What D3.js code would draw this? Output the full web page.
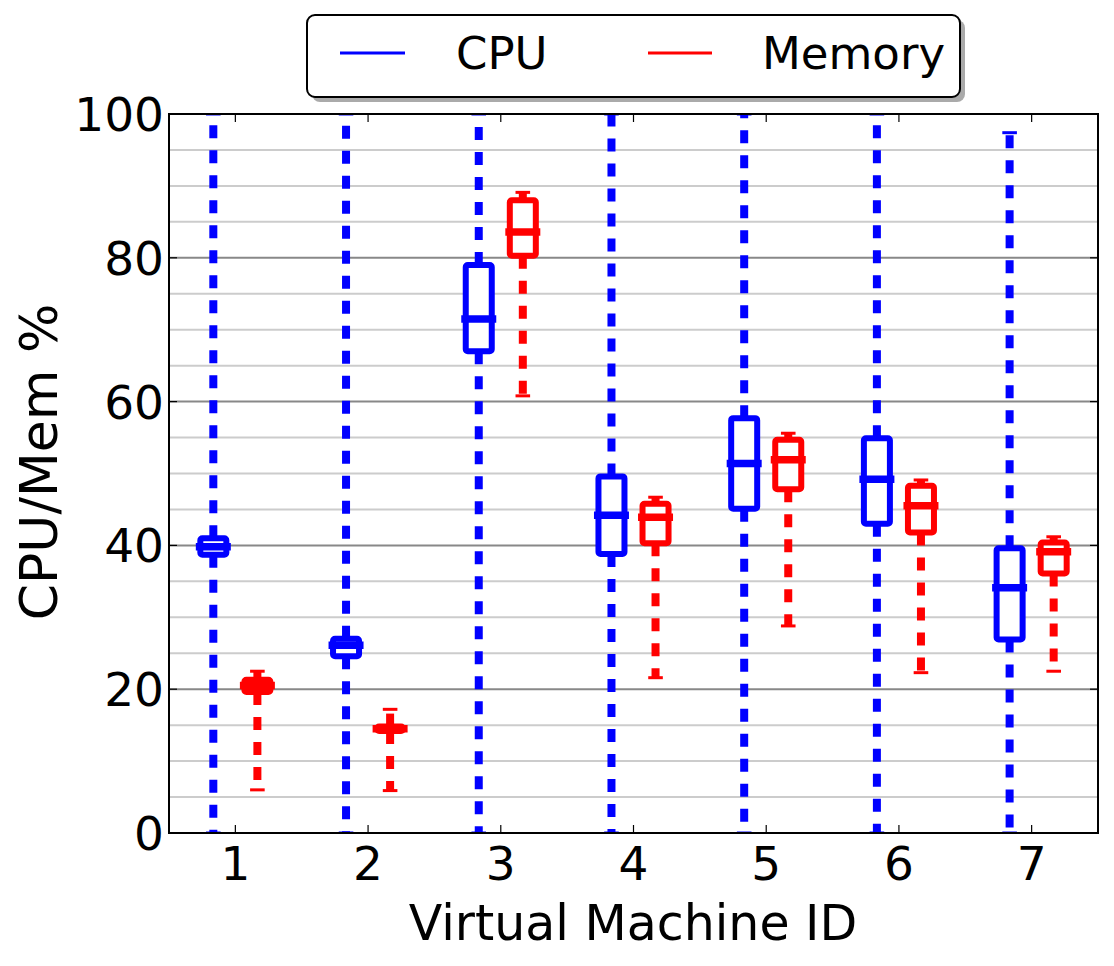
<!DOCTYPE html>
<html><head><meta charset="utf-8">
<script src="https://cdn.jsdelivr.net/npm/d3@7"></script>
<style>body{margin:0;background:#fff}svg{display:block}text{font-family:"DejaVu Sans",sans-serif}</style>
</head><body><svg id="c" width="1114" height="966"></svg>
<script>
const vmIds = [1,2,3,4,5,6,7];
const cpuMin = [0,0,0,0,0,0,0];
const cpuQ1  = [38.7,24.6,67.0,38.8,45.1,43.0,26.9];
const cpuMed = [39.8,26.1,71.5,44.2,51.4,49.2,34.1];
const cpuQ3  = [41.0,27.0,79.0,49.6,57.7,54.9,39.6];
const cpuMax = [100,100,100,100,100,100,97.4];
const memMin = [6.0,5.9,60.8,21.6,28.8,22.3,22.5];
const memQ1  = [19.6,14.2,80.3,40.3,47.8,41.8,36.1];
const memMed = [20.5,14.5,83.6,43.9,51.9,45.5,39.1];
const memQ3  = [21.3,14.8,88.0,45.8,54.7,48.3,40.4];
const memMax = [22.5,17.2,89.1,46.7,55.6,49.1,41.2];
const yTicks = [0,20,40,60,80,100];
const yMinor = d3.range(5,100,5).filter(v=>v%20!==0);
const seriesNames = ["CPU","Memory"];
const seriesColors = ["#0000ff","#ff0000"];

const L=169,R=1098,T=114,B=833;
const svg=d3.select("#c");
const x=d3.scaleLinear().domain([0.5,7.5]).range([L,R]);
const y=d3.scaleLinear().domain([0,100]).range([B,T]);

// grid
svg.append("g").selectAll("line").data(yMinor).join("line")
  .attr("x1",L).attr("x2",R).attr("y1",d=>y(d)).attr("y2",d=>y(d))
  .attr("stroke","#cccccc").attr("stroke-width",2);
svg.append("g").selectAll("line").data([20,40,60,80]).join("line")
  .attr("x1",L).attr("x2",R).attr("y1",d=>y(d)).attr("y2",d=>y(d))
  .attr("stroke","#888888").attr("stroke-width",2);

svg.append("clipPath").attr("id","pc").append("rect").attr("x",L).attr("y",T).attr("width",R-L).attr("height",B-T);
const plot=svg.append("g").attr("clip-path","url(#pc)");

const series=[
  {off:-0.166,color:seriesColors[0],min:cpuMin,q1:cpuQ1,med:cpuMed,q3:cpuQ3,max:cpuMax},
  {off:0.166,color:seriesColors[1],min:memMin,q1:memQ1,med:memMed,q3:memQ3,max:memMax}
];
const bw=0.196;
series.forEach(s=>{
  const data=vmIds.map((id,i)=>({id,min:s.min[i],q1:s.q1[i],med:s.med[i],q3:s.q3[i],max:s.max[i]}));
  const g=plot.append("g");
  data.forEach(d=>{
    const cx=x(d.id+s.off);
    g.append("line").attr("x1",cx).attr("x2",cx).attr("y1",y(d.q1)).attr("y2",y(d.min))
      .attr("stroke",s.color).attr("stroke-width",8).attr("stroke-dasharray","13,12");
    g.append("line").attr("x1",cx).attr("x2",cx).attr("y1",y(d.q3)).attr("y2",y(d.max))
      .attr("stroke",s.color).attr("stroke-width",8).attr("stroke-dasharray","13,12");
    [d.min,d.max].forEach(v=>{
      g.append("line").attr("x1",x(d.id+s.off-0.055)).attr("x2",x(d.id+s.off+0.055))
        .attr("y1",y(v)).attr("y2",y(v)).attr("stroke",s.color).attr("stroke-width",3);
    });
  });
  g.selectAll("rect.box").data(data).join("rect").attr("class","box")
    .attr("x",d=>x(d.id+s.off-bw/2)).attr("width",x(bw)-x(0))
    .attr("y",d=>y(d.q3)).attr("height",d=>y(d.q1)-y(d.q3))
    .attr("fill","#fff").attr("stroke",s.color).attr("stroke-width",6).attr("rx",2);
  g.selectAll("line.med").data(data).join("line").attr("class","med")
    .attr("x1",d=>x(d.id+s.off)-17.5).attr("x2",d=>x(d.id+s.off)+17.5)
    .attr("y1",d=>y(d.med)).attr("y2",d=>y(d.med))
    .attr("stroke",s.color).attr("stroke-width",7.5);
});

// frame
svg.append("rect").attr("x",L).attr("y",T).attr("width",R-L).attr("height",B-T)
  .attr("fill","none").attr("stroke","#000").attr("stroke-width",2);
// ticks
const tk=svg.append("g").attr("stroke","#000").attr("stroke-width",1.2);
vmIds.forEach(v=>{
  tk.append("line").attr("x1",x(v)).attr("x2",x(v)).attr("y1",B).attr("y2",B-8);
  tk.append("line").attr("x1",x(v)).attr("x2",x(v)).attr("y1",T).attr("y2",T+8);
});
yTicks.forEach(v=>{
  tk.append("line").attr("x1",L).attr("x2",L+8).attr("y1",y(v)).attr("y2",y(v));
  tk.append("line").attr("x1",R).attr("x2",R-8).attr("y1",y(v)).attr("y2",y(v));
});
// tick labels
svg.append("g").selectAll("text").data(vmIds).join("text")
  .attr("x",d=>x(d)).attr("y",880).attr("text-anchor","middle")
  .attr("font-size",47).text(d=>d);
svg.append("g").selectAll("text").data(yTicks).join("text")
  .attr("x",164).attr("y",d=>y(d)+17).attr("text-anchor","end")
  .attr("font-size",47).text(d=>d);
// axis labels
svg.append("text").attr("x",633).attr("y",940).attr("text-anchor","middle")
  .attr("font-size",49).text("Virtual Machine ID");
svg.append("text").attr("transform","translate(57,462) rotate(-90)").attr("text-anchor","middle")
  .attr("font-size",52).text("CPU/Mem %");

// legend
const lg=svg.append("g");
lg.append("rect").attr("x",312).attr("y",20).attr("width",653).attr("height",82).attr("rx",8).attr("fill","#aaaaaa");
lg.append("rect").attr("x",307).attr("y",15).attr("width",653).attr("height",82).attr("rx",8)
  .attr("fill","#fff").attr("stroke","#000").attr("stroke-width",2);
const lx=[[340,405,456],[648,712,762]];
seriesNames.forEach((n,i)=>{
  lg.append("line").attr("x1",lx[i][0]).attr("x2",lx[i][1]).attr("y1",53).attr("y2",53)
    .attr("stroke",seriesColors[i]).attr("stroke-width",3);
  lg.append("text").attr("x",lx[i][2]).attr("y",69).attr("font-size",45).text(n);
});
</script></body></html>
